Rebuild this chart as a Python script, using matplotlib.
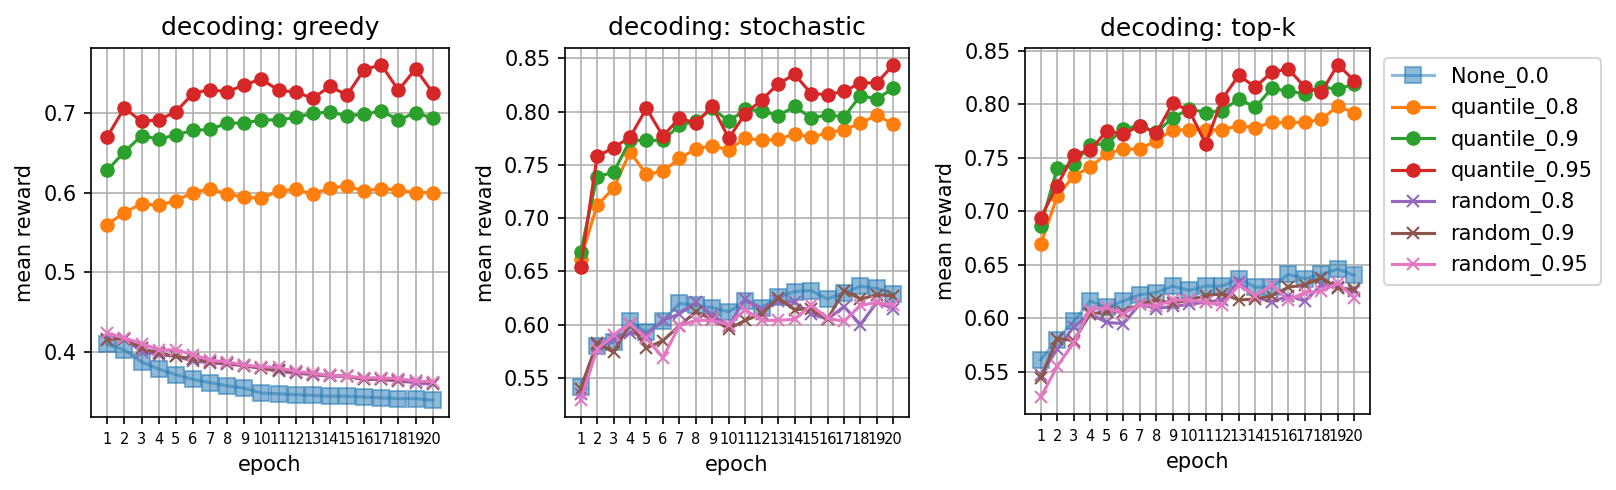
import matplotlib
matplotlib.use("Agg")
import matplotlib.pyplot as plt

epochs = list(range(1, 21))
series_names = ["None_0.0", "quantile_0.8", "quantile_0.9", "quantile_0.95",
                "random_0.8", "random_0.9", "random_0.95"]
titles = ["decoding: greedy", "decoding: stochastic", "decoding: top-k"]

# greedy
greedy_none = [0.410, 0.403, 0.388, 0.379, 0.372, 0.366, 0.362, 0.358, 0.355, 0.349,
               0.348, 0.347, 0.346, 0.345, 0.345, 0.344, 0.343, 0.342, 0.342, 0.340]
greedy_q08 = [0.560, 0.575, 0.586, 0.584, 0.590, 0.600, 0.605, 0.598, 0.594, 0.593,
              0.602, 0.604, 0.598, 0.606, 0.608, 0.602, 0.605, 0.603, 0.600, 0.600]
greedy_q09 = [0.628, 0.651, 0.671, 0.667, 0.672, 0.678, 0.679, 0.687, 0.687, 0.691,
              0.691, 0.694, 0.699, 0.701, 0.696, 0.698, 0.702, 0.691, 0.700, 0.693]
greedy_q095 = [0.670, 0.706, 0.689, 0.691, 0.701, 0.724, 0.729, 0.726, 0.735, 0.742,
               0.728, 0.726, 0.718, 0.733, 0.722, 0.754, 0.760, 0.728, 0.755, 0.725]
greedy_r08 = [0.417, 0.417, 0.401, 0.397, 0.395, 0.389, 0.387, 0.385, 0.384, 0.380,
              0.376, 0.374, 0.372, 0.370, 0.370, 0.366, 0.366, 0.364, 0.362, 0.360]
greedy_r09 = [0.416, 0.417, 0.405, 0.399, 0.395, 0.392, 0.388, 0.386, 0.383, 0.380,
              0.378, 0.375, 0.373, 0.371, 0.370, 0.366, 0.367, 0.365, 0.364, 0.362]
greedy_r095 = [0.424, 0.418, 0.411, 0.403, 0.403, 0.397, 0.390, 0.388, 0.384, 0.382,
               0.381, 0.376, 0.374, 0.371, 0.370, 0.368, 0.368, 0.367, 0.364, 0.363]

# stochastic
stoch_none = [0.541, 0.580, 0.584, 0.603, 0.593, 0.603, 0.620, 0.618, 0.616, 0.612,
              0.622, 0.616, 0.626, 0.631, 0.632, 0.624, 0.630, 0.636, 0.634, 0.629]
stoch_q08 = [0.662, 0.712, 0.728, 0.762, 0.741, 0.744, 0.756, 0.765, 0.768, 0.764,
             0.775, 0.773, 0.774, 0.779, 0.776, 0.780, 0.783, 0.789, 0.797, 0.788]
stoch_q09 = [0.668, 0.739, 0.743, 0.773, 0.773, 0.773, 0.787, 0.791, 0.803, 0.791,
             0.802, 0.801, 0.796, 0.805, 0.794, 0.797, 0.795, 0.815, 0.812, 0.822]
stoch_q095 = [0.654, 0.758, 0.766, 0.776, 0.803, 0.777, 0.794, 0.789, 0.805, 0.775,
              0.798, 0.811, 0.826, 0.835, 0.817, 0.816, 0.819, 0.827, 0.827, 0.844]
stoch_r08 = [0.535, 0.581, 0.586, 0.592, 0.590, 0.604, 0.610, 0.621, 0.609, 0.599,
             0.624, 0.614, 0.622, 0.621, 0.610, 0.605, 0.617, 0.600, 0.621, 0.615]
stoch_r09 = [0.540, 0.583, 0.574, 0.601, 0.578, 0.585, 0.599, 0.612, 0.605, 0.596,
             0.604, 0.610, 0.625, 0.614, 0.615, 0.605, 0.632, 0.624, 0.628, 0.627]
stoch_r095 = [0.529, 0.577, 0.590, 0.601, 0.587, 0.569, 0.599, 0.604, 0.604, 0.600,
              0.614, 0.604, 0.604, 0.605, 0.618, 0.606, 0.603, 0.618, 0.621, 0.618]

# top-k
topk_none = [0.561, 0.580, 0.597, 0.616, 0.610, 0.616, 0.622, 0.624, 0.630, 0.626,
             0.630, 0.630, 0.637, 0.629, 0.629, 0.641, 0.637, 0.641, 0.646, 0.640]
topk_q08 = [0.669, 0.714, 0.733, 0.741, 0.754, 0.758, 0.758, 0.766, 0.776, 0.776,
            0.776, 0.776, 0.780, 0.778, 0.783, 0.783, 0.783, 0.786, 0.798, 0.792]
topk_q09 = [0.686, 0.740, 0.744, 0.762, 0.763, 0.777, 0.780, 0.774, 0.787, 0.796,
            0.792, 0.794, 0.805, 0.797, 0.815, 0.812, 0.810, 0.816, 0.814, 0.819]
topk_q095 = [0.694, 0.724, 0.753, 0.757, 0.775, 0.772, 0.780, 0.773, 0.801, 0.794,
             0.763, 0.805, 0.827, 0.816, 0.830, 0.833, 0.816, 0.811, 0.837, 0.822]
topk_r08 = [0.547, 0.571, 0.592, 0.604, 0.596, 0.595, 0.613, 0.609, 0.611, 0.613,
            0.615, 0.617, 0.634, 0.620, 0.615, 0.621, 0.616, 0.631, 0.629, 0.625]
topk_r09 = [0.544, 0.581, 0.579, 0.604, 0.606, 0.606, 0.613, 0.617, 0.614, 0.617,
            0.621, 0.623, 0.617, 0.618, 0.621, 0.629, 0.631, 0.638, 0.628, 0.627]
topk_r095 = [0.526, 0.555, 0.577, 0.608, 0.610, 0.604, 0.613, 0.611, 0.617, 0.617,
             0.615, 0.612, 0.631, 0.621, 0.631, 0.617, 0.624, 0.625, 0.633, 0.619]

panels = [
    [greedy_none, greedy_q08, greedy_q09, greedy_q095, greedy_r08, greedy_r09, greedy_r095],
    [stoch_none, stoch_q08, stoch_q09, stoch_q095, stoch_r08, stoch_r09, stoch_r095],
    [topk_none, topk_q08, topk_q09, topk_q095, topk_r08, topk_r09, topk_r095],
]

colors = ["#1f77b4", "#ff7f0e", "#2ca02c", "#d62728", "#9467bd", "#8c564b", "#e377c2"]

W, H = 1616, 490
fig = plt.figure(figsize=(W / 150, H / 150), dpi=150)
rects = [(91, 449, 48, 417), (565, 909, 48, 417), (1025, 1370, 48, 414)]

axes = []
for (l, r, t, b) in rects:
    axes.append(fig.add_axes([l / W, 1 - b / H, (r - l) / W, (b - t) / H]))

for ax, data, title in zip(axes, panels, titles):
    for i, (name, vals) in enumerate(zip(series_names, data)):
        if name.startswith("None"):
            ax.plot(epochs, vals, marker="s", markersize=8, color=colors[i],
                    alpha=0.5, label=name)
        elif name.startswith("quantile"):
            ax.plot(epochs, vals, marker="o", markersize=6, color=colors[i], label=name)
        else:
            ax.plot(epochs, vals, marker="x", markersize=6, color=colors[i], label=name)
    ax.set_title(title, fontsize=12)
    ax.set_xlabel("epoch", fontsize=10)
    ax.set_ylabel("mean reward", fontsize=10)
    ax.set_xticks(epochs)
    ax.set_xticklabels([str(e) for e in epochs], fontsize=7)
    ax.tick_params(axis="y", labelsize=10)
    ax.grid(True, color="#b0b0b0", linewidth=0.8)

axes[2].legend(loc="upper left", bbox_to_anchor=(1.01, 1.0), fontsize=10)

fig.savefig("out.png", dpi=150)
